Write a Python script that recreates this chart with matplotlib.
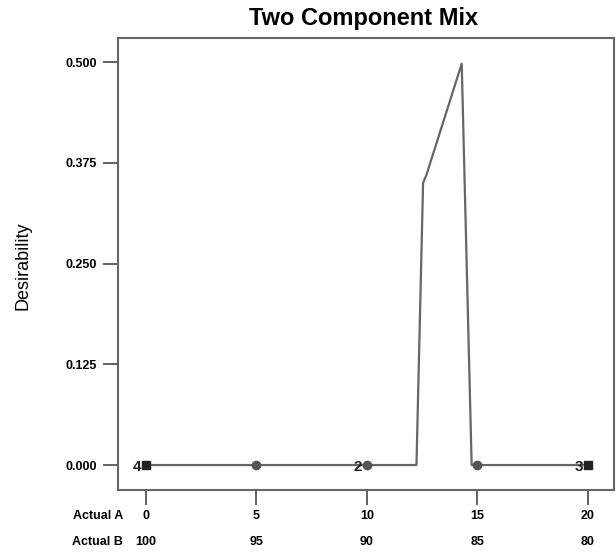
import numpy as np
import matplotlib
matplotlib.use("Agg")
import matplotlib.pyplot as plt
import matplotlib.transforms as mtransforms

plt.rcParams['font.family'] = ['Liberation Sans', 'DejaVu Sans']

# desirability trace along component A
curve_a = [0, 5, 10, 12.25, 12.55, 12.7, 14.3, 14.75, 15, 20]
curve_d = [0, 0, 0, 0, 0.35, 0.36, 0.498, 0.0, 0, 0]

# design points
circ_a = [5, 10, 15]
circ_d = [0, 0, 0]
sq_a = [0, 20]
sq_d = [0, 0]
point_labels = {0: "4", 10: "2", 20: "3"}

actual_a = [0, 5, 10, 15, 20]
actual_b = [100, 95, 90, 85, 80]
y_ticks = [0.0, 0.125, 0.25, 0.375, 0.5]

fig = plt.figure(figsize=(6.16, 5.52), dpi=100)
ax = fig.add_axes([0.1916, 0.1123, 0.8052, 0.8189])

ax.plot(curve_a, curve_d, color='#666666', lw=1.6, zorder=2)
ax.plot(circ_a, circ_d, 'o', color='#555555', ms=6, zorder=3)
ax.plot(sq_a, sq_d, 's', color='#222222', ms=6, zorder=3)
for a, lab in point_labels.items():
    ax.text(a - 0.2, 0.0, lab, ha='right', va='center_baseline', fontsize=11,
            fontweight='bold', color='#222222')

ax.set_xlim(-1.27, 21.2)
ax.set_ylim(-0.031, 0.53)
ax.set_yticks(y_ticks)
ax.set_yticklabels(["%.3f" % v for v in y_ticks], fontsize=9, fontweight='bold')
ax.set_xticks(actual_a)
ax.set_xticklabels([])
ax.tick_params(axis='both', direction='out', length=11, width=1.3, color='#555555')
ax.tick_params(axis='y', pad=4)
for s in ax.spines.values():
    s.set_color('#666666')
    s.set_linewidth(1.5)

trans = mtransforms.blended_transform_factory(ax.transData, fig.transFigure)
row1 = 1 - 516 / 552
row2 = 1 - 542 / 552
for a, b in zip(actual_a, actual_b):
    ax.text(a, row1, str(a), transform=trans, ha='center', va='center',
            fontsize=9, fontweight='bold')
    ax.text(a, row2, str(b), transform=trans, ha='center', va='center',
            fontsize=9, fontweight='bold')
fig.text(123 / 616, row1, "Actual A", ha='right', va='center', fontsize=9, fontweight='bold')
fig.text(123 / 616, row2, "Actual B", ha='right', va='center', fontsize=9, fontweight='bold')

fig.text(23 / 616, 1 - 266 / 552, "Desirability",
         rotation=90, ha='center', va='center', fontsize=13)
fig.text(364 / 616, 1 - 19 / 552, "Two Component Mix", ha='center', va='center',
         fontsize=17, fontweight='bold')

fig.savefig("out.png", dpi=100)
